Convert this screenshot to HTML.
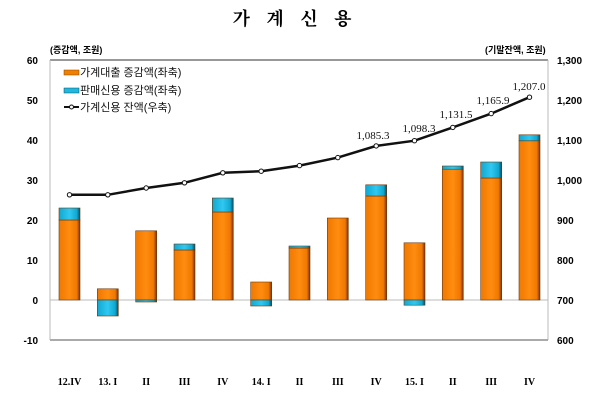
<!DOCTYPE html>
<html><head><meta charset="utf-8"><style>
body{margin:0;background:#fff;}
svg{display:block;font-family:"Liberation Sans","Noto Sans CJK KR",sans-serif;}
.t{font-size:10px;font-weight:bold;fill:#000}
</style></head><body>
<svg width="600" height="400" viewBox="0 0 600 400">
<defs>
<linearGradient id="o" x1="0" x2="1"><stop offset="0" stop-color="#f07800"/><stop offset="0.5" stop-color="#ff8c10"/><stop offset="0.85" stop-color="#f07800"/><stop offset="1" stop-color="#7a3000"/></linearGradient>
<linearGradient id="b" x1="0" x2="1"><stop offset="0" stop-color="#10a8d0"/><stop offset="0.5" stop-color="#30c8f0"/><stop offset="0.85" stop-color="#10a8d0"/><stop offset="1" stop-color="#0a4a60"/></linearGradient>
</defs>
<text x="295" y="25" text-anchor="middle" font-family="'Noto Serif CJK SC','Noto Sans CJK KR',serif" font-size="18" font-weight="bold" letter-spacing="6">가 계 신 용</text>
<text x="50" y="53" font-size="9" font-weight="bold">(증감액, 조원)</text>
<text x="485" y="53" font-size="9" font-weight="bold">(기말잔액, 조원)</text>
<line x1="50" y1="60" x2="548" y2="60" stroke="#777" stroke-width="1.5"/>
<line x1="50" y1="60" x2="50" y2="340" stroke="#bbb"/>
<line x1="548" y1="60" x2="548" y2="340" stroke="#bbb"/>
<line x1="50" y1="340" x2="548" y2="340" stroke="#aaa" stroke-width="2"/>
<line x1="50" y1="300" x2="548" y2="300" stroke="#bbb"/>
<g class="t" text-anchor="end">
<text x="38" y="64">60</text><text x="38" y="104">50</text><text x="38" y="144">40</text><text x="38" y="184">30</text><text x="38" y="224">20</text><text x="38" y="264">10</text><text x="38" y="304">0</text><text x="38" y="344">-10</text>
</g>
<g class="t">
<text x="557" y="64">1,300</text><text x="557" y="104">1,200</text><text x="557" y="144">1,100</text><text x="557" y="184">1,000</text><text x="557" y="224">900</text><text x="557" y="264">800</text><text x="557" y="304">700</text><text x="557" y="344">600</text>
</g>
<g stroke="#6a3a10" stroke-width="0.6">
<rect x="59" y="220" width="21" height="80" fill="url(#o)"/><rect x="59" y="208" width="21" height="12" fill="url(#b)"/>
<rect x="97.3" y="288.8" width="21" height="11.2" fill="url(#o)"/><rect x="97.3" y="300" width="21" height="16" fill="url(#b)"/>
<rect x="135.7" y="230.8" width="21" height="69.2" fill="url(#o)"/><rect x="135.7" y="300" width="21" height="2" fill="url(#b)"/>
<rect x="174" y="250" width="21" height="50" fill="url(#o)"/><rect x="174" y="244" width="21" height="6" fill="url(#b)"/>
<rect x="212.3" y="212" width="21" height="88" fill="url(#o)"/><rect x="212.3" y="198" width="21" height="14" fill="url(#b)"/>
<rect x="250.7" y="282" width="21" height="18" fill="url(#o)"/><rect x="250.7" y="300" width="21" height="6" fill="url(#b)"/>
<rect x="289" y="248" width="21" height="52" fill="url(#o)"/><rect x="289" y="246" width="21" height="2" fill="url(#b)"/>
<rect x="327.3" y="218" width="21" height="82" fill="url(#o)"/>
<rect x="365.7" y="196" width="21" height="104" fill="url(#o)"/><rect x="365.7" y="184.8" width="21" height="11.2" fill="url(#b)"/>
<rect x="404" y="242.8" width="21" height="57.2" fill="url(#o)"/><rect x="404" y="300" width="21" height="5.2" fill="url(#b)"/>
<rect x="442.3" y="169.2" width="21" height="130.8" fill="url(#o)"/><rect x="442.3" y="166" width="21" height="3.2" fill="url(#b)"/>
<rect x="480.7" y="178" width="21" height="122" fill="url(#o)"/><rect x="480.7" y="162" width="21" height="16" fill="url(#b)"/>
<rect x="519" y="140.8" width="21" height="159.2" fill="url(#o)"/><rect x="519" y="134.8" width="21" height="6" fill="url(#b)"/>
</g>
<polyline fill="none" stroke="#111" stroke-width="2.5" points="69.5,194.8 107.8,194.8 146.2,188 184.5,182.8 222.8,172.8 261.2,171.2 299.5,165.6 337.8,157.6 376.2,145.9 414.5,140.7 452.8,127.4 491.2,113.6 529.5,97.2"/>
<g fill="#fff" stroke="#111" stroke-width="1">
<circle cx="69.5" cy="194.8" r="2.2"/><circle cx="107.8" cy="194.8" r="2.2"/><circle cx="146.2" cy="188" r="2.2"/><circle cx="184.5" cy="182.8" r="2.2"/><circle cx="222.8" cy="172.8" r="2.2"/><circle cx="261.2" cy="171.2" r="2.2"/><circle cx="299.5" cy="165.6" r="2.2"/><circle cx="337.8" cy="157.6" r="2.2"/><circle cx="376.2" cy="145.9" r="2.2"/><circle cx="414.5" cy="140.7" r="2.2"/><circle cx="452.8" cy="127.4" r="2.2"/><circle cx="491.2" cy="113.6" r="2.2"/><circle cx="529.5" cy="97.2" r="2.2"/>
</g>
<g font-family="'Liberation Serif',serif" font-size="11" fill="#111" text-anchor="middle">
<text x="373" y="139">1,085.3</text><text x="419" y="132">1,098.3</text><text x="456" y="118">1,131.5</text><text x="493" y="104">1,165.9</text><text x="529" y="90">1,207.0</text>
</g>
<rect x="64" y="70" width="15" height="5" fill="#f08000" stroke="#8a4000" stroke-width="0.5"/>
<rect x="64" y="88" width="15" height="5" fill="#20b8e0" stroke="#0a5060" stroke-width="0.5"/>
<line x1="64" y1="107" x2="79" y2="107" stroke="#111" stroke-width="2"/><circle cx="71.5" cy="107" r="2" fill="#fff" stroke="#111"/>
<g font-size="11" fill="#111">
<text x="80" y="76">가계대출 증감액(좌축)</text><text x="80" y="94">판매신용 증감액(좌축)</text><text x="80" y="111">가계신용 잔액(우축)</text>
</g>
<g class="t" text-anchor="middle" font-family="'Liberation Serif',serif" font-size="11">
<text x="69.5" y="385">12.IV</text><text x="107.8" y="385">13. I</text><text x="146.2" y="385">II</text><text x="184.5" y="385">III</text><text x="222.8" y="385">IV</text><text x="261.2" y="385">14. I</text><text x="299.5" y="385">II</text><text x="337.8" y="385">III</text><text x="376.2" y="385">IV</text><text x="414.5" y="385">15. I</text><text x="452.8" y="385">II</text><text x="491.2" y="385">III</text><text x="529.5" y="385">IV</text>
</g>
</svg>
</body></html>
